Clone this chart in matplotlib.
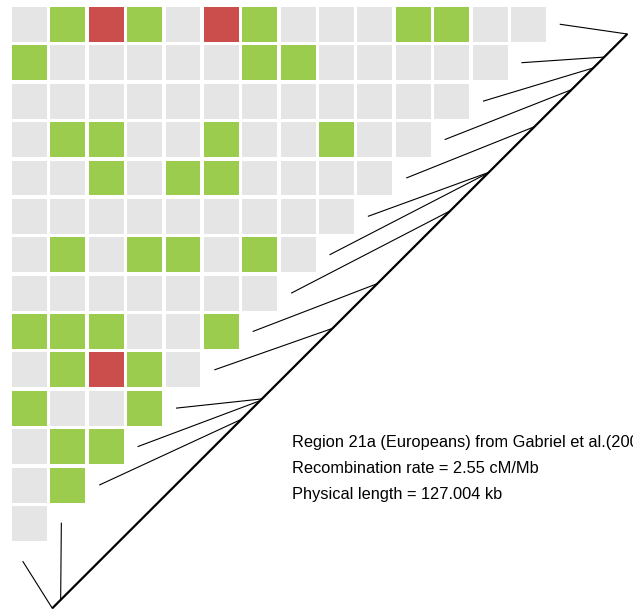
import matplotlib
matplotlib.use("Agg")
import matplotlib.pyplot as plt
from matplotlib.patches import Rectangle

# ---- data ----
# LD class per cell: 0 = weak (grey), 1 = intermediate (green), 2 = strong (red)
ld_rows = [
    [0, 1, 2, 1, 0, 2, 1, 0, 0, 0, 1, 1, 0, 0],
    [1, 0, 0, 0, 0, 0, 1, 1, 0, 0, 0, 0, 0],
    [0, 0, 0, 0, 0, 0, 0, 0, 0, 0, 0, 0],
    [0, 1, 1, 0, 0, 1, 0, 0, 1, 0, 0],
    [0, 0, 1, 0, 1, 1, 0, 0, 0, 0],
    [0, 0, 0, 0, 0, 0, 0, 0, 0],
    [0, 1, 0, 1, 1, 0, 1, 0],
    [0, 0, 0, 0, 0, 0, 0],
    [1, 1, 1, 0, 0, 1],
    [0, 1, 2, 1, 0],
    [1, 0, 0, 1],
    [0, 1, 1],
    [0, 1],
    [0],
]
# physical positions of the 15 SNPs (kb), first = bottom-left end of map
snp_pos_kb = [0.0, 1.85, 41.8, 45.9, 46.3, 61.9, 71.8, 87.9, 96.3, 96.4,
              106.5, 114.7, 119.5, 121.9, 127.004]
region_length_kb = 127.004
info_lines = [
    "Region 21a (Europeans) from Gabriel et al.(2002)",
    "Recombination rate = 2.55 cM/Mb",
    "Physical length = 127.004 kb",
]
class_colors = {0: "#E5E5E5", 1: "#9BCC4E", 2: "#CC4E4C"}

# ---- layout ----
W, H, DPI = 633, 613, 100
pitch = 38.38           # pixels per cell
x0_px, y0_px = 10.3, 5.3
fig = plt.figure(figsize=(W / DPI, H / DPI), dpi=DPI)
ax = fig.add_axes([0, 0, 1, 1])
ax.set_xlim(-x0_px / pitch, (W - x0_px) / pitch)
ax.set_ylim((H - y0_px) / pitch, -y0_px / pitch)
ax.axis("off")

pad = 0.045
size = 1 - 2 * pad
for i, row in enumerate(ld_rows):
    for j, v in enumerate(row):
        ax.add_patch(Rectangle((j + pad, i + pad), size, size,
                               facecolor=class_colors[v], edgecolor="none"))

# genetic map diagonal
map_start = (1.094, 15.71)
map_end = (16.076, 0.748)
ax.plot([map_start[0], map_end[0]], [map_start[1], map_end[1]],
        color="black", lw=1.6, solid_capstyle="butt")

n = len(snp_pos_kb)
for k in range(n):
    # row k of the matrix corresponds to SNP n-1-k
    pos = snp_pos_kb[n - 1 - k] / region_length_kb
    ex = map_start[0] + pos * (map_end[0] - map_start[0])
    ey = map_start[1] + pos * (map_end[1] - map_start[1])
    sx, sy = 14.33 - k, 0.495 + k
    ax.plot([sx, ex], [sy, ey], color="black", lw=0.8)

ty = [(447.5 - y0_px) / pitch, (473 - y0_px) / pitch, (499 - y0_px) / pitch]
tx = (292 - x0_px) / pitch
for t, yy in zip(info_lines, ty):
    ax.text(tx, yy, t, fontsize=11.8, family="Liberation Sans",
            ha="left", va="baseline", color="black")

fig.savefig("out.png", dpi=DPI)
